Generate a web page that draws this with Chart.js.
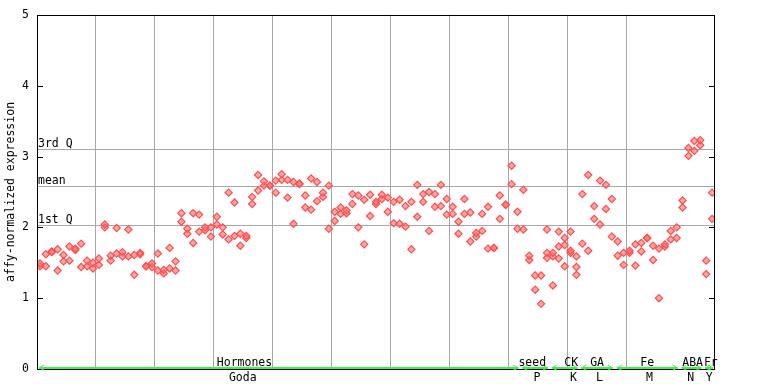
<!DOCTYPE html>
<html>
<head>
<meta charset="utf-8">
<script src="https://cdn.jsdelivr.net/npm/chart.js@4/dist/chart.umd.min.js"></script>
<style>
html,body{margin:0;padding:0;background:#fff;}
canvas{display:block;}
</style>
</head>
<body>
<canvas id="c" width="768" height="384"></canvas>
<script>
// replicate values per sample (sample index = array position)
const rep1 = [1.49,1.62,1.65,1.69,1.61,1.73,1.70,1.77,1.53,1.50,
              1.56,2.04,1.60,1.99,1.65,1.97,1.61,1.64,1.45,1.49,
              1.63,1.40,1.71,1.52,2.20,1.98,2.20,2.18,2.00,2.00,
              2.15,2.00,2.49,2.35,1.91,1.88,2.43,2.74,2.65,2.59,
              2.66,2.75,2.67,2.64,2.62,2.45,2.69,2.64,2.49,2.59,
              2.22,2.28,2.24,2.47,2.45,2.39,2.46,2.36,2.46,2.42,
              2.36,2.39,2.30,2.36,2.60,2.47,2.50,2.47,2.60,2.40,
              2.29,2.08,2.40,2.21,1.92,2.19,2.29,1.71,2.45,2.32,
              2.87,2.22,2.53,1.60,1.32,1.32,1.97,1.64,1.94,1.85,
              1.94,1.59,2.47,2.74,2.30,2.66,2.60,2.40,1.80,1.64,
              1.67,1.76,1.78,1.85,1.74,1.70,1.76,1.95,2.00,2.38,
              3.12,3.22,3.23,1.53,2.49];
const rep2 = [1.45,1.45,1.66,1.39,1.52,1.53,1.68,1.44,1.45,1.42,
              1.47,2.00,1.53,1.63,1.59,1.59,1.33,1.62,1.45,1.44,
              1.39,1.35,1.42,1.39,2.08,1.91,1.78,1.94,1.96,1.87,
              2.04,1.90,1.83,1.88,1.74,1.85,2.33,2.52,2.59,2.59,
              2.49,2.67,2.42,2.05,2.61,2.28,2.25,2.37,2.43,1.98,
              2.09,2.19,2.20,2.33,2.00,1.76,2.16,2.33,2.40,2.22,
              2.06,2.05,2.01,1.69,2.15,2.36,1.95,2.29,2.30,2.18,
              2.19,1.91,2.19,1.80,1.87,1.95,1.70,1.71,2.12,2.32,
              2.61,1.98,1.97,1.54,1.12,0.92,1.64,1.59,1.73,1.75,
              1.67,1.44,1.77,1.67,2.12,2.04,2.26,1.87,1.60,1.47,
              1.64,1.46,1.66,1.85,1.54,1.00,1.73,1.83,1.85,2.28,
              3.01,3.08,3.16,1.34,2.12];
const rep3Index = [86,87,88,89,90,91];
const rep3Value = [1.57,1.18,1.56,1.45,1.64,1.33];

const refNames  = ['3rd Q','mean','1st Q'];
const refValues = [3.11,2.59,2.04];

const yTicks = [0,1,2,3,4,5];

const groupNames  = ['Hormones','seed','CK','GA','Fe','ABA','Fr'];
const subNames    = ['Goda','P','K','L','M','N','Y'];
const groupStart  = [0,82,87,92,98,109,113];
const groupEnd    = [82,87,92,98,109,113,115];
const groupLabelAt= [35.2,84.0,90.6,95.0,103.5,111.2,114.3];
const subLabelAt  = [34.9,84.8,91.0,95.4,103.9,110.9,114.0];

const nSamples = rep1.length;

function pts(arr){ return arr.map((v,i)=>({x:i+0.5,y:v})); }
const pts3 = rep3Index.map((idx,k)=>({x:idx+0.5,y:rep3Value[k]}));

const MONO = '"DejaVu Sans Mono", "Liberation Mono", monospace';
const ptStyle = {
  showLine:false, pointStyle:'rectRot', pointRadius:3.6, pointBorderWidth:1.2,
  pointBorderColor:'#ff4f4f', pointBackgroundColor:'rgba(255,110,110,0.6)'
};

const deco = {
  id:'deco',
  beforeDatasetsDraw(chart){
    const {ctx, chartArea:a, scales:{y}} = chart;
    ctx.save();
    ctx.strokeStyle = '#a8a8a8'; ctx.lineWidth = 1;
    ctx.font = '11.5px ' + MONO; ctx.fillStyle = '#000';
    ctx.textAlign = 'left'; ctx.textBaseline = 'alphabetic';
    refValues.forEach((v,k)=>{
      const py = Math.round(y.getPixelForValue(v)) + 0.5;
      ctx.beginPath(); ctx.moveTo(a.left, py); ctx.lineTo(a.right, py); ctx.stroke();
      ctx.fillText(refNames[k], a.left + 1, py - 2.5);
    });
    ctx.restore();
  },
  afterDraw(chart){
    const {ctx, chartArea:a, scales:{x,y}} = chart;
    ctx.save();
    // frame
    ctx.strokeStyle = '#000'; ctx.lineWidth = 1;
    ctx.strokeRect(Math.round(a.left)+0.5, Math.round(a.top)+0.5,
                   Math.round(a.right-a.left)-1, Math.round(a.bottom-a.top));
    // inward ticks on both sides
    yTicks.forEach(t=>{
      const py = Math.round(y.getPixelForValue(t)) + 0.5;
      ctx.beginPath();
      ctx.moveTo(a.left, py); ctx.lineTo(a.left+6, py);
      ctx.moveTo(a.right-6, py); ctx.lineTo(a.right, py);
      ctx.stroke();
    });
    // green group arrows
    const gy = Math.round(a.bottom) - 1;
    ctx.strokeStyle = '#44ee44'; ctx.fillStyle = '#44ee44'; ctx.lineWidth = 2;
    groupStart.forEach((s,k)=>{
      const x1 = x.getPixelForValue(s) + 2;
      const x2 = Math.min(x.getPixelForValue(groupEnd[k]) - 2, a.right - 1);
      ctx.beginPath(); ctx.moveTo(x1, gy); ctx.lineTo(x2, gy); ctx.stroke();
      ctx.lineWidth = 1;
      ctx.beginPath();
      ctx.moveTo(x1+5, gy-3); ctx.lineTo(x1, gy); ctx.lineTo(x1+5, gy+2);
      ctx.moveTo(x2-5, gy-3); ctx.lineTo(x2, gy); ctx.lineTo(x2-5, gy+2);
      ctx.stroke();
      ctx.lineWidth = 2;
    });
    // labels
    ctx.fillStyle = '#000';
    ctx.font = '11.5px ' + MONO;
    ctx.textAlign = 'center'; ctx.textBaseline = 'alphabetic';
    groupNames.forEach((n,k)=>{
      ctx.fillText(n, x.getPixelForValue(groupLabelAt[k]), a.bottom - 3);
    });
    subNames.forEach((n,k)=>{
      ctx.fillText(n, x.getPixelForValue(subLabelAt[k]), a.bottom + 12);
    });
    // y title
    ctx.save();
    ctx.translate(11, (a.top + a.bottom)/2 + 0);
    ctx.rotate(-Math.PI/2);
    ctx.font = '11.5px ' + MONO;
    ctx.textAlign = 'center'; ctx.textBaseline = 'middle';
    ctx.fillText('affy-normalized expression', 0, 0);
    ctx.restore();
    ctx.restore();
  }
};

new Chart(document.getElementById('c'), {
  type:'scatter',
  data:{ datasets:[
    Object.assign({data:pts(rep1)}, ptStyle),
    Object.assign({data:pts(rep2)}, ptStyle),
    Object.assign({data:pts3}, ptStyle)
  ]},
  options:{
    responsive:false, animation:false, devicePixelRatio:1, events:[],
    layout:{padding:{left:0, right:53, top:14, bottom:15}},
    plugins:{legend:{display:false}, tooltip:{enabled:false}},
    scales:{
      x:{ type:'linear', min:0, max:nSamples,
          afterFit(s){ s.height = 0; },
          ticks:{display:false, stepSize:10},
          border:{display:false},
          grid:{drawTicks:false, lineWidth:1,
                color:c=> (c.tick && c.tick.value>0 && c.tick.value<nSamples && c.tick.value%10===0) ? '#a8a8a8' : 'rgba(0,0,0,0)'}
      },
      y:{ min:0, max:5,
          afterFit(s){ s.width = 37; },
          afterBuildTicks(s){ s.ticks = yTicks.map(v=>({value:v})); },
          ticks:{padding:8, color:'#000', font:{family:MONO, size:11.5}},
          border:{display:false},
          grid:{display:false, drawTicks:false}
      }
    }
  },
  plugins:[deco]
});
</script>
</body>
</html>
